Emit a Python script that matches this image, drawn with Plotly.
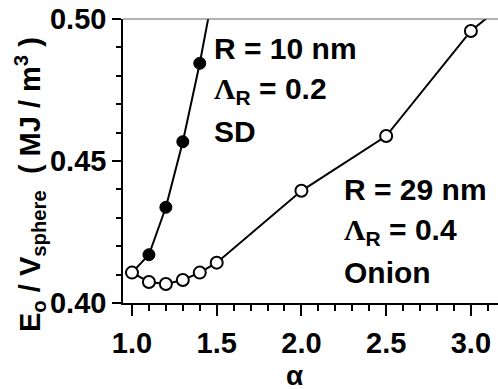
import plotly.graph_objects as go

# Data
sd_alpha = [1.0, 1.1, 1.2, 1.3, 1.4, 1.5]
sd_energy = [0.4107, 0.4170, 0.4337, 0.4568, 0.4844, 0.516]

onion_alpha = [1.0, 1.1, 1.2, 1.3, 1.4, 1.5, 2.0, 2.5, 3.0, 3.5]
onion_energy = [0.4107, 0.4074, 0.4067, 0.4081, 0.4107, 0.4142, 0.4395, 0.4588, 0.4958, 0.520]

FONT = "Liberation Sans, Arial, sans-serif"

fig = go.Figure()
fig.add_trace(go.Scatter(
    x=sd_alpha, y=sd_energy, mode="lines+markers",
    line=dict(color="black", width=2),
    marker=dict(symbol="circle", size=12, color="black", line=dict(color="black", width=1)),
    showlegend=False, hoverinfo="skip",
))
fig.add_trace(go.Scatter(
    x=onion_alpha, y=onion_energy, mode="lines+markers",
    line=dict(color="black", width=2),
    marker=dict(symbol="circle", size=12, color="white", line=dict(color="black", width=2)),
    showlegend=False, hoverinfo="skip",
))

fig.update_layout(
    width=498, height=389,
    margin=dict(l=123, r=0, t=19, b=86, autoexpand=False),
    paper_bgcolor="white", plot_bgcolor="white",
    font=dict(family=FONT, size=29, color="black"),
    xaxis=dict(
        range=[0.947, 3.16], tick0=1.0, dtick=0.5, tickformat=".1f",
        showgrid=False, zeroline=False, automargin=False,
        showline=True, linecolor="black", linewidth=1.5,
        ticks="outside", ticklen=11, tickwidth=1.5, tickcolor="black",
        minor=dict(dtick=0.1, tick0=1.0, ticks="outside", ticklen=6, tickwidth=1.5, tickcolor="black"),
        tickfont=dict(family=FONT, size=29, color="black", weight="bold"),
        ticklabelstandoff=2,
    ),
    yaxis=dict(
        range=[0.40, 0.50], tick0=0.40, dtick=0.05, tickformat=".2f",
        showgrid=False, zeroline=False, automargin=False,
        showline=True, linecolor="black", linewidth=1.5,
        ticks="outside", ticklen=9, tickwidth=1.5, tickcolor="black",
        minor=dict(dtick=0.01, ticks="outside", ticklen=5, tickwidth=1.5, tickcolor="black"),
        tickfont=dict(family=FONT, size=29, color="black", weight="bold"),
    ),
    shapes=[dict(type="line", xref="paper", yref="paper", x0=0, x1=1, y0=1, y1=1,
                 line=dict(color="#666666", width=1))],
)

def ann(text, x, y, size=30, **kw):
    d = dict(text=text, x=x, y=y, xref="paper", yref="paper", showarrow=False,
             xanchor="left", yanchor="middle",
             font=dict(family=FONT, size=size, color="black", weight="bold"))
    d.update(kw)
    fig.add_annotation(**d)

def px_x(p):
    return (p - 123) / 375.0

def px_y(p):
    return (303 - p) / 284.0

LAM = "<span style='font-family:Liberation Serif, Times New Roman, serif'>Λ</span><sub>R</sub>"

ann("R = 10 nm", px_x(212), px_y(49))
ann(LAM + " = 0.2", px_x(212), px_y(90))
ann("SD", px_x(212), px_y(131))

ann("R = 29 nm", px_x(342), px_y(189))
ann(LAM + " = 0.4", px_x(342), px_y(231))
ann("Onion", px_x(342), px_y(272))

# axis titles
ann("α", px_x(294), px_y(375), size=28, xanchor="center")
ann("E<sub>o</sub> / V<sub>sphere</sub>  ( MJ / m<sup>3</sup> )", px_x(30), px_y(185),
    size=29, xanchor="center", textangle=-90)

fig.write_html("out.html", config={"displayModeBar": False},
               post_script="document.body.style.margin='0';document.body.style.padding='0';")
